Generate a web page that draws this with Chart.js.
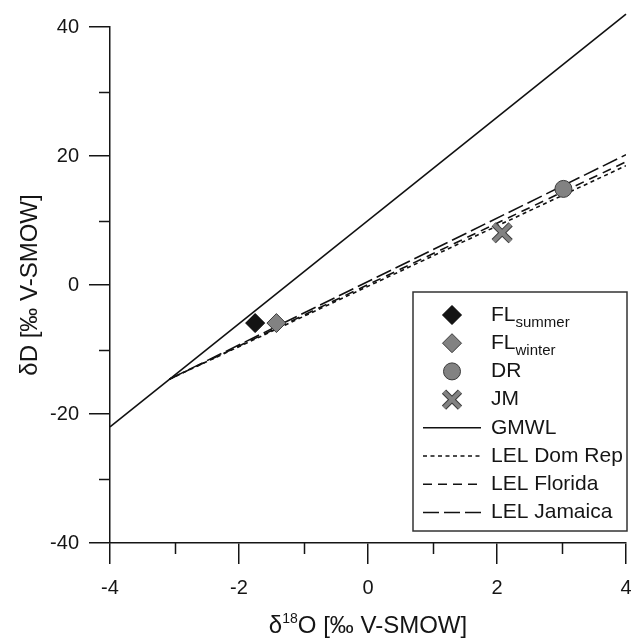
<!DOCTYPE html>
<html>
<head>
<meta charset="utf-8">
<script src="https://cdn.jsdelivr.net/npm/chart.js@4.4.1/dist/chart.umd.min.js"></script>
<style>
  html, body { margin: 0; padding: 0; background: #fff; }
  canvas { display: block; }
</style>
</head>
<body>
<canvas id="isoChart" width="631" height="639"></canvas>
<script>
const FONT = "'Liberation Sans', Arial, sans-serif";
const INK = "#151515";

// sample points (d18O, dD)
const sampleNames = ["FL summer", "FL winter", "DR", "JM"];
const sampleO18 = [-1.75, -1.42, 3.03, 2.08];
const sampleD = [-5.9, -5.9, 14.9, 8.1];

// global meteoric water line
const gmwlO18 = [-4, 4];
const gmwlD = [-22, 42];

// local evaporation lines
const lelO18 = [-3.08, 4];
const lelDomRep = [-14.6, 18.5];
const lelFlorida = [-14.6, 19.1];
const lelJamaica = [-14.6, 20.2];

// axis ticks
const xTicks = [-4, -2, 0, 2, 4];
const yTicks = [-40, -20, 0, 20, 40];

const GRAY = "#828282";
const EDGE = "#3a3a3a";

function pts(xs, ys) {
  return xs.map((x, i) => ({ x: x, y: ys[i] }));
}

function lineSet(label, ys, dash, width) {
  return {
    label: label,
    data: pts(lelO18, ys),
    showLine: true,
    borderColor: "#111",
    borderWidth: width,
    borderDash: dash,
    pointRadius: 0,
    fill: false
  };
}

///////////////////////////////
// extra drawing: minor ticks, axis titles, legend box
///////////////////////////////

const legendRows = [
  { name: "FL", sub: "summer", kind: "diamond", fill: "#141414", edge: "#000" },
  { name: "FL", sub: "winter", kind: "diamond", fill: GRAY, edge: EDGE },
  { name: "DR", kind: "circle", fill: GRAY, edge: EDGE },
  { name: "JM", kind: "cross" },
  { name: "GMWL", kind: "line", dash: [] },
  { name: "LEL Dom Rep", kind: "line", dash: [4, 3.5] },
  { name: "LEL Florida", kind: "line", dash: [9, 6] },
  { name: "LEL Jamaica", kind: "line", dash: [16, 5] }
];

const extras = {
  id: "extras",
  afterDraw(chart) {
    const ctx = chart.ctx;
    const area = chart.chartArea;
    const xs = chart.scales.x;
    const ys = chart.scales.y;

    // minor ticks
    ctx.save();
    ctx.strokeStyle = INK;
    ctx.lineWidth = 1.5;
    ctx.beginPath();
    [-3, -1, 1, 3].forEach(v => {
      const px = Math.round(xs.getPixelForValue(v)) + 0.5;
      ctx.moveTo(px, area.bottom);
      ctx.lineTo(px, area.bottom + 11);
    });
    [-30, -10, 10, 30].forEach(v => {
      const py = Math.round(ys.getPixelForValue(v)) + 0.5;
      ctx.moveTo(area.left - 11, py);
      ctx.lineTo(area.left, py);
    });
    ctx.stroke();

    // x title with superscript
    ctx.fillStyle = INK;
    ctx.textBaseline = "alphabetic";
    const big = "24px " + FONT;
    const small = "14px " + FONT;
    ctx.font = big;
    const w1 = ctx.measureText("δ").width;
    const w3 = ctx.measureText("O [‰ V-SMOW]").width;
    ctx.font = small;
    const w2 = ctx.measureText("18").width;
    let tx = (area.left + area.right) / 2 - (w1 + w2 + w3) / 2;
    const base = 633;
    ctx.font = big;
    ctx.fillText("δ", tx, base);
    tx += w1;
    ctx.font = small;
    ctx.fillText("18", tx, base - 10);
    tx += w2;
    ctx.font = big;
    ctx.fillText("O [‰ V-SMOW]", tx, base);

    // y title
    ctx.save();
    ctx.translate(37, (area.top + area.bottom) / 2);
    ctx.rotate(-Math.PI / 2);
    ctx.textAlign = "center";
    ctx.fillText("δD [‰ V-SMOW]", 0, 0);
    ctx.restore();

    // legend box
    const bx = 413, by = 292, bw = 214, bh = 239;
    ctx.fillStyle = "#fff";
    ctx.fillRect(bx, by, bw, bh);
    ctx.strokeStyle = "#333";
    ctx.lineWidth = 1.5;
    ctx.strokeRect(bx, by, bw, bh);

    legendRows.forEach((row, i) => {
      const cy = 315 + i * 28.2;
      const mx = 452;
      ctx.save();
      if (row.kind === "diamond") {
        ctx.beginPath();
        ctx.moveTo(mx, cy - 9.5);
        ctx.lineTo(mx + 9.5, cy);
        ctx.lineTo(mx, cy + 9.5);
        ctx.lineTo(mx - 9.5, cy);
        ctx.closePath();
        ctx.fillStyle = row.fill;
        ctx.fill();
        ctx.strokeStyle = row.edge;
        ctx.lineWidth = 1;
        ctx.stroke();
      } else if (row.kind === "circle") {
        ctx.beginPath();
        ctx.arc(mx, cy, 8.5, 0, Math.PI * 2);
        ctx.fillStyle = row.fill;
        ctx.fill();
        ctx.strokeStyle = row.edge;
        ctx.lineWidth = 1;
        ctx.stroke();
      } else if (row.kind === "cross") {
        const r = 8;
        [[EDGE, 6], [GRAY, 4]].forEach(([c, lw]) => {
          ctx.strokeStyle = c;
          ctx.lineWidth = lw;
          ctx.beginPath();
          ctx.moveTo(mx - r, cy - r);
          ctx.lineTo(mx + r, cy + r);
          ctx.moveTo(mx + r, cy - r);
          ctx.lineTo(mx - r, cy + r);
          ctx.stroke();
        });
      } else {
        ctx.strokeStyle = "#111";
        ctx.lineWidth = 1.5;
        ctx.setLineDash(row.dash);
        ctx.beginPath();
        ctx.moveTo(423, cy);
        ctx.lineTo(481, cy);
        ctx.stroke();
      }
      ctx.restore();

      ctx.fillStyle = INK;
      ctx.textBaseline = "middle";
      ctx.font = "21px " + FONT;
      ctx.fillText(row.name, 491, cy);
      if (row.sub) {
        const nw = ctx.measureText(row.name).width;
        ctx.font = "15px " + FONT;
        ctx.fillText(row.sub, 491 + nw, cy + 8);
      }
    });
    ctx.restore();
  }
};

const chart = new Chart(document.getElementById("isoChart"), {
  type: "scatter",
  data: {
    datasets: [
      {
        label: sampleNames[0],
        data: [{ x: sampleO18[0], y: sampleD[0] }],
        pointStyle: "rectRot",
        pointRadius: 9.5,
        backgroundColor: "#141414",
        borderColor: "#000",
        borderWidth: 1
      },
      {
        label: sampleNames[1],
        data: [{ x: sampleO18[1], y: sampleD[1] }],
        pointStyle: "rectRot",
        pointRadius: 9.5,
        backgroundColor: GRAY,
        borderColor: EDGE,
        borderWidth: 1
      },
      {
        label: sampleNames[2],
        data: [{ x: sampleO18[2], y: sampleD[2] }],
        pointStyle: "circle",
        pointRadius: 8.5,
        backgroundColor: GRAY,
        borderColor: EDGE,
        borderWidth: 1
      },
      {
        label: sampleNames[3],
        data: [{ x: sampleO18[3], y: sampleD[3] }],
        pointStyle: "crossRot",
        pointRadius: 12,
        borderColor: GRAY,
        borderWidth: 4
      },
      {
        label: sampleNames[3] + " outline",
        data: [{ x: sampleO18[3], y: sampleD[3] }],
        pointStyle: "crossRot",
        pointRadius: 12,
        borderColor: EDGE,
        borderWidth: 6
      },
      {
        label: "GMWL",
        data: pts(gmwlO18, gmwlD),
        showLine: true,
        borderColor: "#111",
        borderWidth: 1.6,
        pointRadius: 0,
        clip: false
      },
      lineSet("LEL Dom Rep", lelDomRep, [4, 3.5], 1.6),
      lineSet("LEL Florida", lelFlorida, [9, 6], 1.6),
      lineSet("LEL Jamaica", lelJamaica, [16, 5], 1.6)
    ]
  },
  options: {
    responsive: false,
    animation: false,
    events: [],
    layout: { autoPadding: false, padding: { top: 27, right: 5, left: 0, bottom: 0 } },
    plugins: {
      legend: { display: false },
      tooltip: { enabled: false }
    },
    scales: {
      x: {
        type: "linear",
        min: -4,
        max: 4,
        afterFit: s => { s.height = 96; s.paddingLeft = 0; s.paddingRight = 0; },
        afterBuildTicks: s => { s.ticks = xTicks.map(v => ({ value: v })); },
        ticks: {
          color: INK,
          font: { family: FONT, size: 20 },
          padding: 12,
          maxRotation: 0,
          callback: v => String(v)
        },
        grid: {
          drawOnChartArea: false,
          drawTicks: true,
          tickLength: 21,
          color: INK,
          lineWidth: 1.5
        },
        border: { display: true, color: INK, width: 1.5 },
        title: { display: false }
      },
      y: {
        type: "linear",
        min: -40,
        max: 40,
        afterFit: s => { s.width = 110; s.paddingTop = 0; s.paddingBottom = 0; },
        afterBuildTicks: s => { s.ticks = yTicks.map(v => ({ value: v })); },
        ticks: {
          color: INK,
          font: { family: FONT, size: 20 },
          padding: 10,
          callback: v => String(v)
        },
        grid: {
          drawOnChartArea: false,
          drawTicks: true,
          tickLength: 21,
          color: INK,
          lineWidth: 1.5
        },
        border: { display: true, color: INK, width: 1.5 },
        title: { display: false }
      }
    }
  },
  plugins: [extras]
});
</script>
</body>
</html>
